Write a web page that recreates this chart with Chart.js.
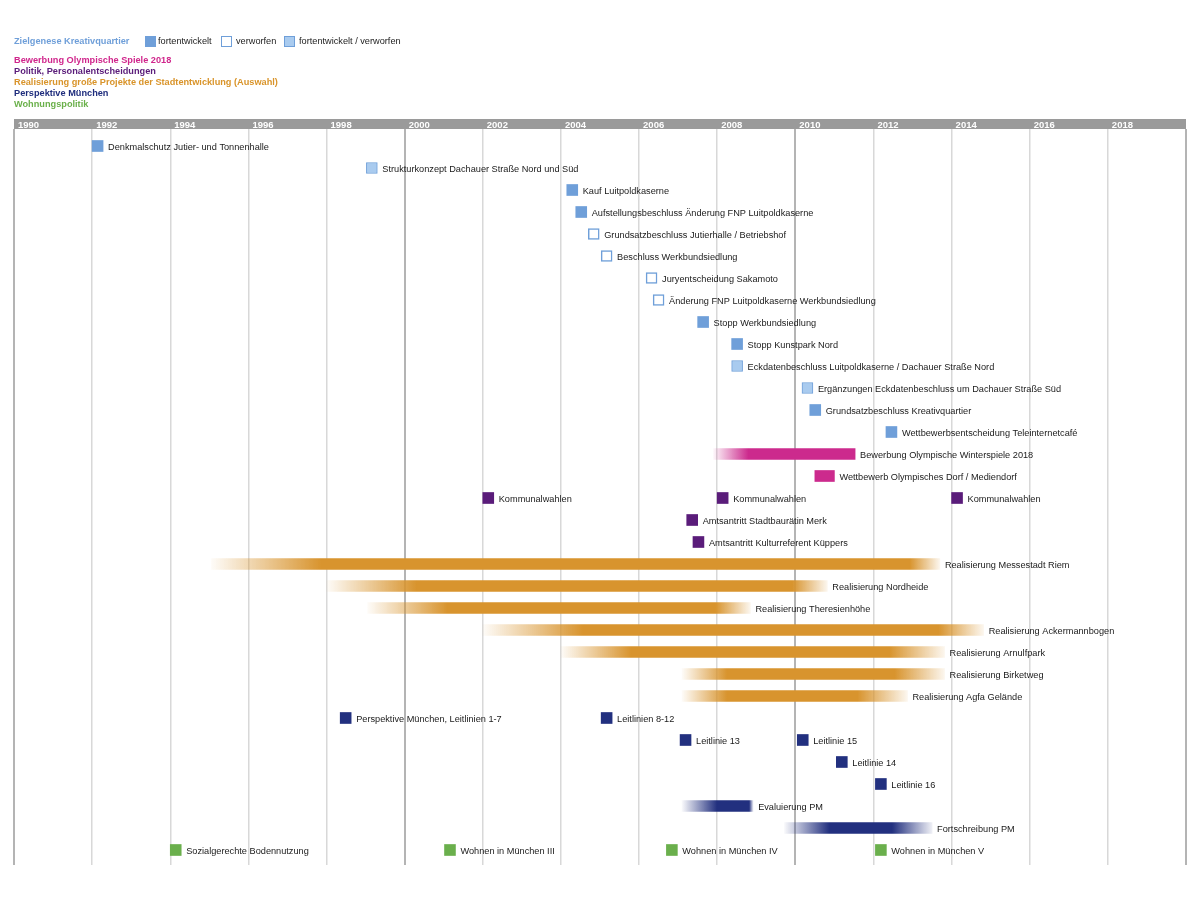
<!DOCTYPE html>
<html>
<head>
<meta charset="utf-8">
<script src="https://cdn.jsdelivr.net/npm/chart.js@4"></script>
<style>
  body { margin: 0; background: #fff; font-family: "Liberation Sans", Arial, sans-serif; }
  #wrap { position: relative; width: 1200px; height: 899px; }
  #grafico { position: absolute; left: 0; top: 0; }
  .leg { position: absolute; font-size: 9.2px; line-height: 11px; white-space: nowrap; }
  .b { font-weight: bold; }
  .box { position: absolute; width: 11px; height: 11px; top: 36px; box-sizing: border-box; }
</style>
</head>
<body>
<div id="wrap">
  <canvas id="grafico" width="1200" height="899"></canvas>
  <div class="leg b" style="left:14px; top:36px; color:#6f9fd9">Zielgenese Kreativquartier</div>
  <div class="box" style="left:145px; background:#6f9fd9"></div>
  <div class="leg" style="left:158px; top:36px; color:#222">fortentwickelt</div>
  <div class="box" style="left:221px; background:#fff; border:1.5px solid #6f9fd9"></div>
  <div class="leg" style="left:236px; top:36px; color:#222">verworfen</div>
  <div class="box" style="left:284px; background:#a9cbef; border:1px solid #6f9fd9"></div>
  <div class="leg" style="left:299px; top:36px; color:#222">fortentwickelt / verworfen</div>
  <div class="leg b" style="left:14px; top:55px; color:#d0268c">Bewerbung Olympische Spiele 2018</div>
  <div class="leg b" style="left:14px; top:66px; color:#5a1c7a">Politik, Personalentscheidungen</div>
  <div class="leg b" style="left:14px; top:77px; color:#d9942a">Realisierung große Projekte der Stadtentwicklung (Auswahl)</div>
  <div class="leg b" style="left:14px; top:88px; color:#1f2d7d">Perspektive München</div>
  <div class="leg b" style="left:14px; top:99px; color:#6ab04a">Wohnungspolitik</div>
</div>
<script>
// Zielgenese Kreativquartier
const fortLabels = ['Denkmalschutz Jutier- und Tonnenhalle', 'Kauf Luitpoldkaserne', 'Aufstellungsbeschluss Änderung FNP Luitpoldkaserne', 'Stopp Werkbundsiedlung', 'Stopp Kunstpark Nord', 'Grundsatzbeschluss Kreativquartier', 'Wettbewerbsentscheidung Teleinternetcafé'];
const fortJahr = [1992.0, 2004.15, 2004.38, 2007.5, 2008.37, 2010.37, 2012.32];
const fortZeile = [1, 3, 4, 9, 10, 13, 14];

const verwLabels = ['Grundsatzbeschluss Jutierhalle / Betriebshof', 'Beschluss Werkbundsiedlung', 'Juryentscheidung Sakamoto', 'Änderung FNP Luitpoldkaserne Werkbundsiedlung'];
const verwJahr = [2004.7, 2005.03, 2006.18, 2006.36];
const verwZeile = [5, 6, 7, 8];

const beideLabels = ['Strukturkonzept Dachauer Straße Nord und Süd', 'Eckdatenbeschluss Luitpoldkaserne / Dachauer Straße Nord', 'Ergänzungen Eckdatenbeschluss um Dachauer Straße Süd'];
const beideJahr = [1999.02, 2008.37, 2010.17];
const beideZeile = [2, 11, 12];

// Bewerbung Olympische Spiele 2018
const olympiaLabels = ['Bewerbung Olympische Winterspiele 2018', 'Wettbewerb Olympisches Dorf / Mediendorf'];
const olympiaVon = [2007.9, 2010.5];
const olympiaBis = [2011.53, 2011.0];
const olympiaZeile = [15, 16];

// Politik, Personalentscheidungen
const politikLabels = ['Kommunalwahlen', 'Kommunalwahlen', 'Kommunalwahlen', 'Amtsantritt Stadtbaurätin Merk', 'Amtsantritt Kulturreferent Küppers'];
const politikJahr = [2002.0, 2008.0, 2014.0, 2007.22, 2007.38];
const politikZeile = [17, 17, 17, 18, 19];

// Realisierung große Projekte
const realLabels = ['Realisierung Messestadt Riem', 'Realisierung Nordheide', 'Realisierung Theresienhöhe', 'Realisierung Ackermannbogen', 'Realisierung Arnulfpark', 'Realisierung Birketweg', 'Realisierung Agfa Gelände'];
const realVon = [1995.05, 1998.0, 1999.05, 2002.0, 2004.0, 2007.1, 2007.1];
const realBis = [2013.7, 2010.82, 2008.85, 2014.82, 2013.82, 2013.82, 2012.87];
const realZeile = [20, 21, 22, 23, 24, 25, 26];

// Perspektive München
const pmLabels = ['Perspektive München, Leitlinien 1-7', 'Leitlinien 8-12', 'Leitlinie 13', 'Leitlinie 15', 'Leitlinie 14', 'Leitlinie 16'];
const pmJahr = [1998.35, 2005.03, 2007.05, 2010.05, 2011.05, 2012.05];
const pmZeile = [27, 27, 28, 28, 29, 30];

const pmBalkenLabels = ['Evaluierung PM', 'Fortschreibung PM'];
const pmBalkenVon = [2007.1, 2009.72];
const pmBalkenBis = [2008.92, 2013.5];
const pmBalkenZeile = [31, 32];

// Wohnungspolitik
const wohnLabels = ['Sozialgerechte Bodennutzung', 'Wohnen in München III', 'Wohnen in München IV', 'Wohnen in München V'];
const wohnJahr = [1994.0, 2001.02, 2006.7, 2012.05];
const wohnZeile = [33, 33, 33, 33];

// Ausblendung der Balkenenden in Pixel [links, rechts]
const olympiaFade = [[35, 0], [0, 0]];
const realFade = [[110, 30], [90, 35], [80, 35], [100, 45], [70, 55], [45, 50], [45, 50]];
const pmFade = [[35, 4], [45, 40]];

const QUADRAT = 0.28; // Jahre, ca. 11px

const quadrate = (jahre, zeilen) => jahre.map((j, i) => ({x: [j, j + QUADRAT], y: zeilen[i]}));
const balken = (von, bis, zeilen) => von.map((v, i) => ({x: [v, bis[i]], y: zeilen[i]}));

const hex2rgb = (hex) => {
    const n = parseInt(hex.slice(1), 16);
    return [(n >> 16) & 255, (n >> 8) & 255, n & 255];
};

const verlauf = (farbe, fades) => (ctx) => {
    const chart = ctx.chart;
    const sx = chart.scales.x;
    if (!sx || !ctx.raw || !chart.chartArea) return farbe;
    const x0 = sx.getPixelForValue(ctx.raw.x[0]);
    const x1 = sx.getPixelForValue(ctx.raw.x[1]);
    const len = x1 - x0;
    const [l, r] = fades[ctx.dataIndex];
    if (len <= 0 || (l === 0 && r === 0)) return farbe;
    const [cr, cg, cb] = hex2rgb(farbe);
    const g = chart.ctx.createLinearGradient(x0, 0, x1, 0);
    g.addColorStop(0, l > 0 ? `rgba(${cr},${cg},${cb},0.03)` : farbe);
    g.addColorStop(Math.min(l / len, 0.5), farbe);
    g.addColorStop(Math.max(1 - r / len, 0.5), farbe);
    g.addColorStop(1, r > 0 ? `rgba(${cr},${cg},${cb},0.08)` : farbe);
    return g;
};

const beschriftung = {
    id: 'beschriftung',
    afterDatasetsDraw(chart) {
        const c = chart.ctx;
        c.save();
        c.font = '9.2px "Liberation Sans", Arial, sans-serif';
        c.fillStyle = '#1a1a1a';
        c.textBaseline = 'middle';
        c.textAlign = 'left';
        chart.data.datasets.forEach((ds, di) => {
            const meta = chart.getDatasetMeta(di);
            meta.data.forEach((el, i) => {
                const rechts = Math.max(el.x, el.base);
                c.fillText(ds.texte[i], rechts + 5, el.y + 1);
            });
        });
        c.restore();
    }
};

const ctx = document.getElementById('grafico');
new Chart(ctx, {
    type: 'bar',
    data: {
        datasets: [
            {texte: fortLabels, data: quadrate(fortJahr, fortZeile), backgroundColor: '#6f9fd9', borderWidth: 0},
            {texte: verwLabels, data: quadrate(verwJahr, verwZeile), backgroundColor: '#ffffff', borderColor: '#6f9fd9', borderWidth: 1.5, borderSkipped: false},
            {texte: beideLabels, data: quadrate(beideJahr, beideZeile), backgroundColor: '#a9cbef', borderColor: '#6f9fd9', borderWidth: 1, borderSkipped: false},
            {texte: olympiaLabels, data: balken(olympiaVon, olympiaBis, olympiaZeile), backgroundColor: verlauf('#cc2a8d', olympiaFade), borderWidth: 0},
            {texte: politikLabels, data: quadrate(politikJahr, politikZeile), backgroundColor: '#5a1c7a', borderWidth: 0},
            {texte: realLabels, data: balken(realVon, realBis, realZeile), backgroundColor: verlauf('#d8942e', realFade), borderWidth: 0},
            {texte: pmLabels, data: quadrate(pmJahr, pmZeile), backgroundColor: '#22307f', borderWidth: 0},
            {texte: pmBalkenLabels, data: balken(pmBalkenVon, pmBalkenBis, pmBalkenZeile), backgroundColor: verlauf('#22307f', pmFade), borderWidth: 0},
            {texte: wohnLabels, data: quadrate(wohnJahr, wohnZeile), backgroundColor: '#6aaf4c', borderWidth: 0}
        ]
    },
    options: {
        responsive: false,
        devicePixelRatio: 1,
        animation: false,
        indexAxis: 'y',
        datasets: {
            bar: {grouped: false, barThickness: 11}
        },
        layout: {padding: {left: 14, right: 14, top: 119, bottom: 34}},
        plugins: {legend: {display: false}, tooltip: {enabled: false}},
        scales: {
            x: {
                type: 'linear',
                position: 'top',
                min: 1990,
                max: 2020,
                backgroundColor: '#9a9a9a',
                afterFit: (s) => { s.height = 10; },
                border: {display: false},
                ticks: {
                    stepSize: 2,
                    align: 'start',
                    labelOffset: 4,
                    padding: -2,
                    color: '#ffffff',
                    font: {family: '"Liberation Sans", Arial, sans-serif', size: 9.5, weight: 'bold'},
                    callback: (v) => v === 2020 ? '' : String(v)
                },
                grid: {
                    drawTicks: false,
                    color: (c) => (c.tick && c.tick.value % 10 === 0) ? '#b4b4b4' : '#d8d8d8',
                    lineWidth: (c) => (c.tick && c.tick.value % 10 === 0) ? 2 : 1.5
                }
            },
            y: {
                type: 'linear',
                display: false,
                offset: false,
                reverse: true,
                min: 0.2273,
                max: 33.682
            }
        }
    },
    plugins: [beschriftung]
});
</script>
</body>
</html>
